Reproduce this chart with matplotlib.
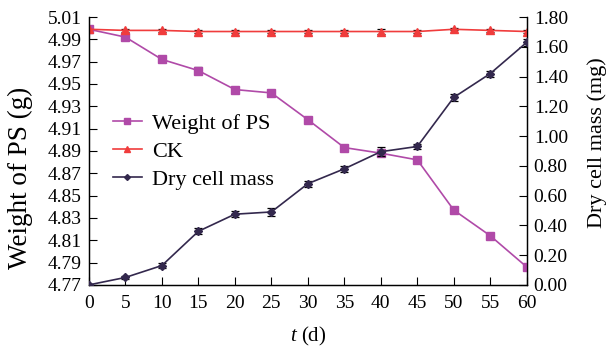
import matplotlib.pyplot as plt
from matplotlib.lines import Line2D
import numpy as np

plt.rcParams['font.family'] = ['Liberation Serif', 'DejaVu Serif']
plt.rcParams['mathtext.fontset'] = 'custom'
plt.rcParams['mathtext.it'] = 'Liberation Serif:italic'

t = [0, 5, 10, 15, 20, 25, 30, 35, 40, 45, 50, 55, 60]
ps = [4.999, 4.992, 4.972, 4.962, 4.945, 4.942, 4.918, 4.893, 4.888, 4.882, 4.837, 4.814, 4.786]
ps_err = [0.001, 0.002, 0.002, 0.003, 0.002, 0.002, 0.001, 0.002, 0.002, 0.001, 0.002, 0.001, 0.002]
ck = [4.999, 4.998, 4.998, 4.997, 4.997, 4.997, 4.997, 4.997, 4.997, 4.997, 4.999, 4.998, 4.997]
ck_err = [0.001, 0.001, 0.001, 0.001, 0.001, 0.001, 0.001, 0.001, 0.002, 0.001, 0.001, 0.001, 0.001]
dry = [0.0, 0.05, 0.13, 0.36, 0.475, 0.49, 0.68, 0.78, 0.895, 0.93, 1.26, 1.42, 1.63]
dry_err = [0.005, 0.01, 0.015, 0.02, 0.02, 0.025, 0.02, 0.02, 0.03, 0.015, 0.025, 0.02, 0.025]

ps_col = '#b04aa8'
ck_col = '#f03c3c'
dry_col = '#33284d'

fig = plt.figure(figsize=(6.09, 3.47), dpi=100)
ax = fig.add_axes([0.146, 0.179, 0.719, 0.772])
ax2 = ax.twinx()

ax.errorbar(t, ps, yerr=ps_err, color=ps_col, marker='s', ms=5.5, lw=1.2,
            ecolor='black', elinewidth=0.9, capsize=3, capthick=0.9, zorder=3)
ax.errorbar(t, ck, yerr=ck_err, color=ck_col, marker='^', ms=6, lw=1.2,
            ecolor='black', elinewidth=0.9, capsize=3, capthick=0.9, zorder=3)
ax2.errorbar(t, dry, yerr=dry_err, color=dry_col, marker='D', ms=4, lw=1.2,
             ecolor='black', elinewidth=0.9, capsize=3, capthick=0.9, zorder=3)

ax.set_xlim(0, 60)
ax.set_ylim(4.77, 5.01)
ax.set_yticks(np.arange(4.77, 5.0101, 0.02))
ax.set_xticks(t)
ax2.set_ylim(0, 1.8)
ax2.set_yticks(np.arange(0, 1.801, 0.2))
ax2.set_yticklabels(['%.2f' % v for v in np.arange(0, 1.801, 0.2)])

for a in (ax, ax2):
    a.spines['top'].set_visible(False)
    a.tick_params(direction='in', labelsize=14, length=6, width=0.8, pad=5)
    for s in a.spines.values():
        s.set_linewidth(0.9)
ax.tick_params(axis='x', pad=7)

ax.set_xlabel('$t$ (d)', fontsize=15)
ax.xaxis.set_label_coords(0.5, -0.15)
ax.set_ylabel('Weight of PS (g)', fontsize=19.5)
ax.yaxis.set_label_coords(-0.128, 0.40)
ax2.set_ylabel('Dry cell mass (mg)', fontsize=16)
ax2.yaxis.set_label_coords(1.137, 0.53)

handles = [Line2D([], [], color=ps_col, marker='s', ms=4, lw=1.2),
           Line2D([], [], color=ck_col, marker='^', ms=5, lw=1.2),
           Line2D([], [], color=dry_col, marker='D', ms=3, lw=1.2)]
ax.legend(handles, ['Weight of PS', 'CK', 'Dry cell mass'],
          loc='upper left', bbox_to_anchor=(0.055, 0.64), frameon=False,
          fontsize=16, handlelength=1.3, handletextpad=0.45,
          labelspacing=0.33, borderpad=0, borderaxespad=0)

fig.savefig('out.png', dpi=100)
